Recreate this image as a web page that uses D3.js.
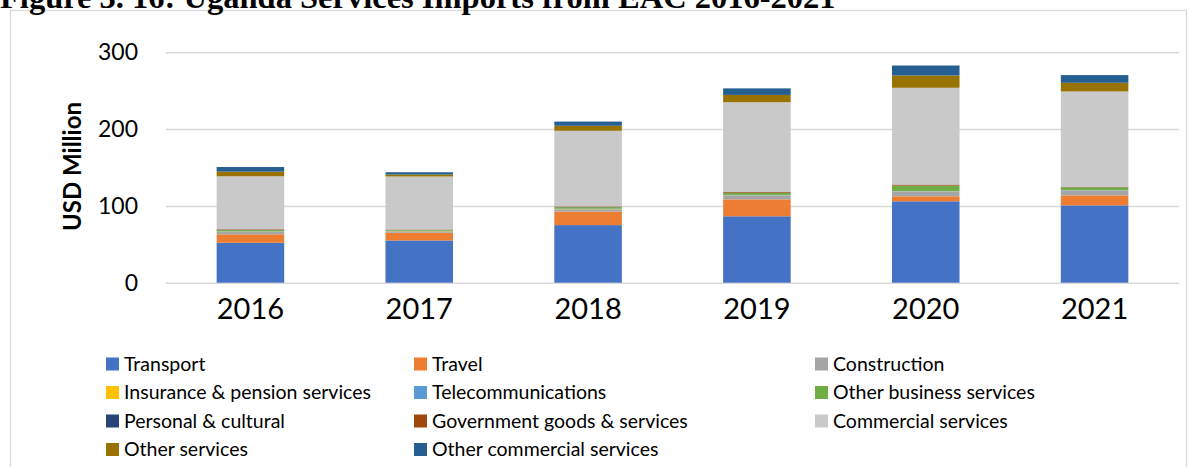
<!DOCTYPE html>
<html><head><meta charset="utf-8">
<script src="https://cdn.jsdelivr.net/npm/d3@7"></script>
<style>html,body{margin:0;padding:0;background:#fff;overflow:hidden}</style>
</head><body><svg id="c" width="1194" height="467"></svg>
<script>
const years = ["2016","2017","2018","2019","2020","2021"];
const seriesNames = ["Transport","Travel","Construction","Insurance & pension services","Telecommunications","Other business services","Personal & cultural","Government goods & services","Commercial services","Other services","Other commercial services"];
const transport = [52, 55, 75, 86.5, 106, 100.7];
const travel = [11, 10, 17.5, 22, 6.5, 13];
const construction = [3, 2, 3, 5, 6, 6];
const insurance = [0.5, 0.3, 0.3, 0.3, 0.3, 0.3];
const telecom = [0.5, 0.3, 0.5, 0.5, 0.5, 0.5];
const otherBusiness = [1.5, 1, 2, 2.5, 7, 3.5];
const personal = [0.3, 0.2, 0.2, 0.2, 0.2, 0.2];
const government = [0.8, 0.5, 0.8, 1, 1.3, 0.8];
const commercial = [69, 69, 98.5, 117, 126, 124];
const otherServices = [6, 2.5, 6.5, 9.5, 16, 11.3];
const otherCommercial = [6, 3, 5.5, 8.5, 13, 10];
const yTicks = [0, 100, 200, 300];
const colors = ["#4472C4","#ED7D31","#A5A5A5","#FFC000","#5B9BD5","#70AD47","#264478","#9E480E","#C9C9C9","#997300","#255E91"];

const seriesVals = [transport, travel, construction, insurance, telecom, otherBusiness, personal, government, commercial, otherServices, otherCommercial];
const rows = years.map((y,i)=>{const o={year:y}; seriesNames.forEach((s,k)=>o[s]=seriesVals[k][i]); return o;});
const stacked = d3.stack().keys(seriesNames)(rows);

const svg = d3.select("#c");
const FONT = "Lato, 'Open Sans', sans-serif";

// frame
svg.append("rect").attr("x",10.5).attr("y",10.5).attr("width",1176).attr("height",480)
  .attr("fill","none").attr("stroke","#d9d9d9").attr("stroke-width",1.3);

// title (clipped at top, as in the source figure)
svg.append("text").attr("x",0).attr("y",7.5)
  .attr("font-family","'Liberation Serif','Times New Roman',serif").attr("font-weight","bold")
  .attr("font-size",32.5).attr("fill","#000")
  .text("Figure 3. 16: Uganda Services Imports from EAC 2016-2021");

const x = d3.scaleBand().domain(years).range([166, 1179]).paddingInner(0.6).paddingOuter(0.3);
const y = d3.scaleLinear().domain([0,300]).range([282.7, 52.3]);

// gridlines
const yAxis = d3.axisLeft(y).tickValues(yTicks).tickSize(-(1179-166)).tickPadding(28);
const gy = svg.append("g").attr("transform","translate(166,0)").call(yAxis);
gy.select(".domain").remove();
gy.selectAll(".tick line").attr("stroke","#d9d9d9").attr("stroke-width",1.5);
gy.selectAll(".tick text").attr("font-family",FONT).attr("font-size",23).attr("fill","#000");

// bars
svg.append("g").selectAll("g").data(stacked).join("g").attr("fill",(d,i)=>colors[i])
  .selectAll("rect").data(d=>d).join("rect")
  .attr("x",d=>x(d.data.year)).attr("width",x.bandwidth())
  .attr("y",d=>y(d[1])).attr("height",d=>Math.max(0,y(d[0])-y(d[1])));

// x axis labels
const xAxis = d3.axisBottom(x).tickSize(0).tickPadding(16);
const gx = svg.append("g").attr("transform","translate(0,"+y(0)+")").call(xAxis);
gx.select(".domain").remove();
gx.selectAll(".tick text").attr("font-family",FONT).attr("font-size",29).attr("fill","#000");

// y title
svg.append("text").attr("transform","translate(81,166.5) rotate(-90)").attr("text-anchor","middle")
  .attr("font-family",FONT).attr("font-weight","bold").attr("font-size",24).attr("fill","#000")
  .text("USD Million");

// legend
const colX = [106, 414, 815];
const rowY = [364, 392.5, 421, 449.5];
const lg = svg.append("g").selectAll("g").data(seriesNames).join("g")
  .attr("transform",(d,i)=>"translate("+colX[i%3]+","+rowY[Math.floor(i/3)]+")");
lg.append("rect").attr("x",0).attr("y",-6.5).attr("width",13).attr("height",13).attr("fill",(d,i)=>colors[i]);
lg.append("text").attr("x",18).attr("y",0).attr("dy","0.35em")
  .attr("font-family",FONT).attr("font-size",19.5).attr("fill","#000").text(d=>d);
</script></body></html>
